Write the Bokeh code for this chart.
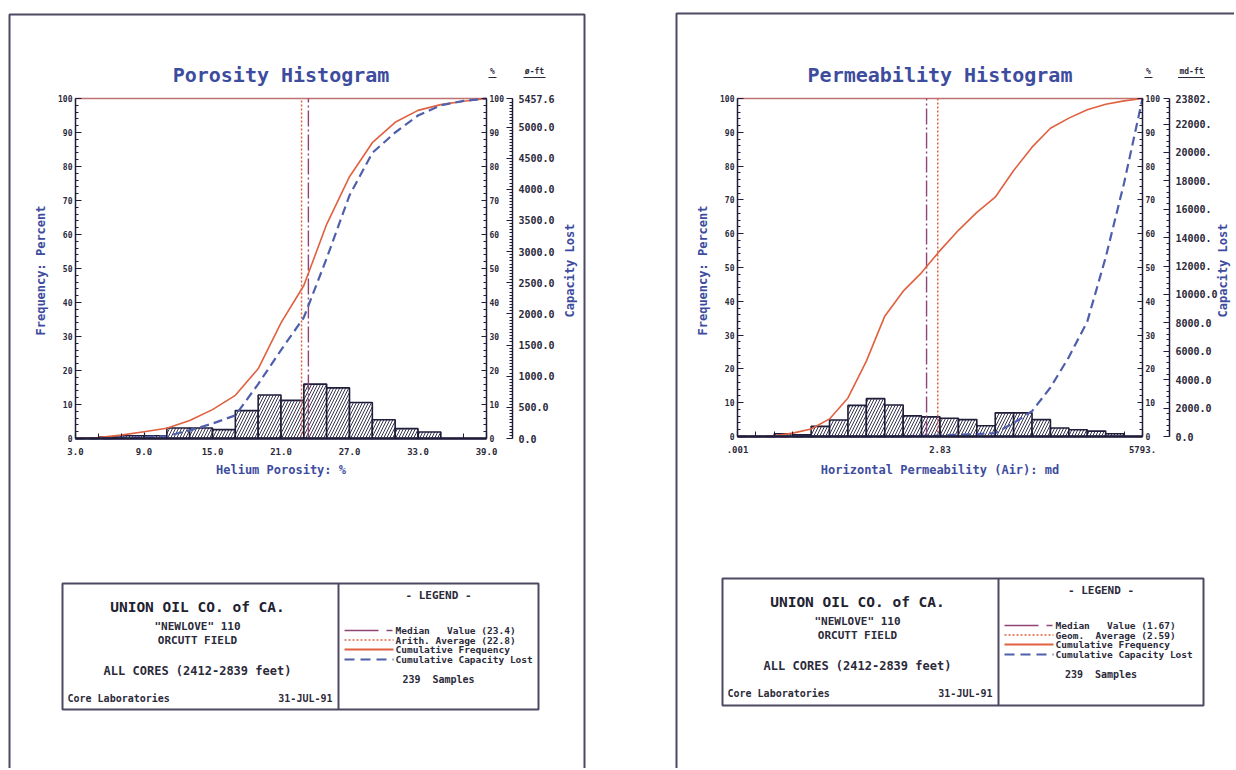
import numpy as np
from bokeh.plotting import figure
from bokeh.models import (Range1d, LinearAxis, LogScale, FixedTicker,
                          SingleIntervalTicker, NumeralTickFormatter)
from bokeh.core.properties import value
from bokeh.embed import file_html
from bokeh.resources import INLINE

# ------------------------------------------------------------------ data
# Porosity histogram: 2 % bins from 3 to 39 % porosity
por_bin_edges = [3, 5, 7, 9, 11, 13, 15, 17, 19, 21, 23, 25, 27, 29, 31, 33, 35, 37, 39]
por_frequency = [0.0, 0.4, 0.8, 0.8, 3.1, 3.1, 2.6, 8.2, 12.8, 11.2, 16.0, 14.9,
                 10.6, 5.5, 2.9, 1.9, 0.0, 0.0]
por_cum_frequency = [0, 0.3, 1.0, 2.0, 3.0, 5.3, 8.5, 12.7, 20.5, 34.0, 45.0, 63.0,
                     77.0, 87.0, 93.0, 96.5, 98.2, 99.2, 100]
por_cum_capacity = [0, 0, 0.2, 0.4, 0.7, 2.4, 4.4, 6.8, 16.0, 26.0, 35.6, 53.0,
                    71.5, 84.0, 90.0, 95.0, 98.0, 99.3, 100]
por_median = 23.4
por_average = 22.8
por_capacity_max = 5457.6
por_capacity_ticks = [0, 500, 1000, 1500, 2000, 2500, 3000, 3500, 4000, 4500, 5000, 5457.6]
por_x_ticks = [3, 9, 15, 21, 27, 33, 39]

# Permeability histogram: 22 log-spaced bins
perm_axis_min = 0.001
perm_axis_max = 8008.9
perm_n_bins = 22
perm_frequency = [0, 0, 0.8, 0.5, 3.0, 4.9, 9.2, 11.2, 9.3, 6.1, 5.8, 5.4, 5.0, 3.2,
                  7.0, 7.0, 5.0, 2.5, 2.0, 1.6, 0.8, 0]
perm_cum_frequency = [0, 0, 0.2, 1.0, 2.2, 5.2, 11.4, 22.3, 35.6, 43.0, 48.5, 55.0,
                      61.0, 66.3, 70.8, 78.7, 85.6, 91.2, 94.2, 96.7, 98.3, 99.3, 100]
perm_cum_capacity = [0, 0, 0, 0, 0, 0, 0, 0, 0, 0.1, 0.2, 0.3, 0.5, 0.7, 1.0, 4.0,
                     7.5, 14.5, 23.5, 34.0, 53.0, 75.0, 100]
perm_median = 1.67
perm_geom_average = 2.59
perm_capacity_max = 23802
perm_capacity_ticks = [0, 2000, 4000, 6000, 8000, 10000, 12000, 14000, 16000, 18000,
                       20000, 22000, 23802]
perm_capacity_labels = ["0.0", "2000.0", "4000.0", "6000.0", "8000.0", "10000.0", "12000.",
                        "14000.", "16000.", "18000.", "20000.", "22000.", "23802."]
perm_x_ticks = [0.001, 2.83, 8008.9]
perm_x_labels = [".001", "2.83", "5793."]
perm_bin_edges = list(np.geomspace(perm_axis_min, perm_axis_max, perm_n_bins + 1))

# ------------------------------------------------------------------ style
FONT = "DejaVu Sans Mono"
INK = "#1f1d3a"
DARK = "#2b2a3a"
BLUE_TXT = "#3d4c9e"
RED = "#e0603f"
BLUE_LINE = "#4f5fab"
MEDIAN = "#8e4474"
FRAME_TOP = "#c07272"
BORDER = "#4f4862"
NB = "\u00a0"

W, H = 1234, 768


def Y(py):
    return H - py


p = figure(width=W, height=H, x_range=Range1d(0, W), y_range=Range1d(0, H),
           x_axis_type=None, y_axis_type=None, output_backend="svg",
           toolbar_location=None, min_border=0, outline_line_color=None,
           background_fill_color="white", border_fill_color="white")


def lin_range(v0, p0, v1, p1, c0, c1):
    k = (v1 - v0) / (p1 - p0)
    return Range1d(start=v0 + (c0 - p0) * k, end=v0 + (c1 - p0) * k)


def log_range(v0, p0, v1, p1, c0, c1):
    a, b = np.log10(v0), np.log10(v1)
    k = (b - a) / (p1 - p0)
    return Range1d(start=10 ** (a + (c0 - p0) * k), end=10 ** (a + (c1 - p0) * k))


CX0, CX1 = 0, W
CY0, CY1 = 0, H

# panel geometry (page pixels)
LG = dict(x0=75, x1=486, y0=438, y100=98, cap_x=512)
RG = dict(x0=737, x1=1142, y0=436, y100=98, cap_x=1169)

p.extra_x_ranges = {
    "lx": lin_range(por_bin_edges[0], LG["x0"], por_bin_edges[-1], LG["x1"], CX0, CX1),
    "rx": log_range(perm_axis_min, RG["x0"], perm_axis_max, RG["x1"], CX0, CX1),
}
p.extra_x_scales = {"rx": LogScale()}
p.extra_y_ranges = {
    "ly": lin_range(0, Y(LG["y0"]), 100, Y(LG["y100"]), CY0, CY1),
    "lc": lin_range(0, Y(LG["y0"]), por_capacity_max, Y(LG["y100"]), CY0, CY1),
    "ry": lin_range(0, Y(RG["y0"]), 100, Y(RG["y100"]), CY0, CY1),
    "rc": lin_range(0, Y(RG["y0"]), perm_capacity_max, Y(RG["y100"]), CY0, CY1),
}


def txt(x, py, s, size, color=DARK, align="center", bold=True, angle=0.0):
    p.text(x=[x], y=[Y(py)], text=[s.replace(" ", NB)], text_font=value(FONT),
           text_font_size=f"{size}px", text_font_style="bold" if bold else "normal",
           text_color=color, text_align=align, text_baseline="middle", angle=angle)


def seg(x0, py0, x1, py1, color, width, dash="solid"):
    p.segment(x0=[x0], y0=[Y(py0)], x1=[x1], y1=[Y(py1)], line_color=color,
              line_width=width, line_dash=dash)


def style_axis(ax, size, tick_in, minor_in, lw=1.5, standoff=3):
    ax.axis_line_color = INK
    ax.axis_line_width = lw
    ax.major_tick_line_color = INK
    ax.major_tick_line_width = 1.2
    ax.minor_tick_line_color = INK
    ax.minor_tick_line_width = 1.0
    ax.major_tick_in = tick_in
    ax.major_tick_out = 0
    ax.minor_tick_in = minor_in
    ax.minor_tick_out = 0
    ax.major_label_text_font = FONT
    ax.major_label_text_font_style = "bold"
    ax.major_label_text_font_size = f"{size}px"
    ax.major_label_text_color = DARK
    ax.major_label_standoff = standoff


def draw_hist(g, xn, yn, edges, freq, cumf, cumc, med, avg, xmin, xmax):
    # bars
    p.quad(left=edges[:-1], right=edges[1:], bottom=0, top=freq,
           x_range_name=xn, y_range_name=yn, fill_color="white", line_color=INK,
           line_width=1.6, hatch_pattern="/", hatch_color=INK, hatch_weight=0.9,
           hatch_scale=6)
    # top frame line
    p.segment(x0=[xmin], y0=[100], x1=[xmax], y1=[100], x_range_name=xn,
              y_range_name=yn, line_color=FRAME_TOP, line_width=1.4)
    # median / average
    p.segment(x0=[med], y0=[0], x1=[med], y1=[100], x_range_name=xn, y_range_name=yn,
              line_color=MEDIAN, line_width=1.4, line_dash="16 3 2 3")
    p.segment(x0=[avg], y0=[0], x1=[avg], y1=[100], x_range_name=xn, y_range_name=yn,
              line_color=RED, line_width=1.5, line_dash="2 2")
    # cumulative curves
    p.line(edges, cumf, x_range_name=xn, y_range_name=yn, line_color=RED, line_width=1.6)
    p.line(edges, cumc, x_range_name=xn, y_range_name=yn, line_color=BLUE_LINE,
           line_width=2.2, line_dash="9 5")

    # left percent axis
    ax = LinearAxis(y_range_name=yn, fixed_location=g["x0"], bounds=(0, 100),
                    ticker=SingleIntervalTicker(interval=10, num_minor_ticks=5))
    style_axis(ax, 8, 6, 3, lw=1.5, standoff=3)
    p.add_layout(ax, "left")
    # right percent axis
    ax = LinearAxis(y_range_name=yn, fixed_location=g["x1"], bounds=(0, 100),
                    ticker=SingleIntervalTicker(interval=10, num_minor_ticks=5))
    style_axis(ax, 8, 5, 3, lw=1.5, standoff=3)
    p.add_layout(ax, "right")


# ------------------------------------------------------------------ porosity panel
draw_hist(LG, "lx", "ly", por_bin_edges, por_frequency, por_cum_frequency,
          por_cum_capacity, por_median, por_average, por_bin_edges[0], por_bin_edges[-1])

ax = LinearAxis(y_range_name="lc", fixed_location=LG["cap_x"], bounds=(0, por_capacity_max),
                ticker=FixedTicker(ticks=por_capacity_ticks,
                                   minor_ticks=list(np.arange(0, por_capacity_max, 50))),
                formatter=NumeralTickFormatter(format="0.0"))
style_axis(ax, 10, 6, 3, lw=1.5, standoff=6)
p.add_layout(ax, "right")

ax = LinearAxis(x_range_name="lx", fixed_location=Y(LG["y0"]),
                bounds=(por_bin_edges[0], por_bin_edges[-1]),
                ticker=FixedTicker(ticks=por_x_ticks, minor_ticks=por_bin_edges),
                formatter=NumeralTickFormatter(format="0.0"))
style_axis(ax, 9, 6, 5, lw=2.6, standoff=9)
p.add_layout(ax, "below")

# ------------------------------------------------------------------ permeability panel
draw_hist(RG, "rx", "ry", perm_bin_edges, perm_frequency, perm_cum_frequency,
          perm_cum_capacity, perm_median, perm_geom_average, perm_axis_min, perm_axis_max)

ax = LinearAxis(y_range_name="rc", fixed_location=RG["cap_x"], bounds=(0, perm_capacity_max),
                ticker=FixedTicker(ticks=perm_capacity_ticks,
                                   minor_ticks=list(np.arange(0, perm_capacity_max, 400))))
ax.major_label_overrides = dict(zip(perm_capacity_ticks, perm_capacity_labels))
style_axis(ax, 10, 6, 3, lw=1.5, standoff=6)
p.add_layout(ax, "right")

ax = LinearAxis(x_range_name="rx", fixed_location=Y(RG["y0"]),
                bounds=(perm_axis_min, perm_axis_max),
                ticker=FixedTicker(ticks=perm_x_ticks, minor_ticks=perm_bin_edges))
ax.major_label_overrides = dict(zip(perm_x_ticks, perm_x_labels))
style_axis(ax, 9, 6, 5, lw=2.6, standoff=9)
p.add_layout(ax, "below")

# ------------------------------------------------------------------ titles and axis titles
for g, title, xlabel, unit, cap_dx in [
        (LG, "Porosity Histogram", "Helium Porosity: %", "ø-ft", 57),
        (RG, "Permeability Histogram", "Horizontal Permeability (Air): md", "md-ft", 53)]:
    cx = (g["x0"] + g["x1"]) / 2
    txt(cx, 74, title, 20, color=BLUE_TXT)
    txt(cx, 469, xlabel, 12, color=BLUE_TXT)
    txt(g["x0"] - 35, 270, "Frequency: Percent", 12, color=BLUE_TXT, angle=np.pi / 2)
    txt(g["cap_x"] + cap_dx, 270, "Capacity Lost", 12, color=BLUE_TXT, angle=np.pi / 2)
    # header units above the right axes
    txt(g["x1"] + 6, 71, "%", 8)
    seg(g["x1"] + 2, 77, g["x1"] + 10, 77, DARK, 1)
    ux = g["cap_x"] + 22
    txt(ux, 71, unit, 8)
    w = 5 * len(unit)
    seg(ux - w / 2 - 1, 77, ux + w / 2 + 1, 77, DARK, 1)

# ------------------------------------------------------------------ page borders
p.line(x=[9, 9, 584, 584], y=[Y(780), Y(14), Y(14), Y(780)], line_color=BORDER, line_width=2)
p.line(x=[676, 676, 1240], y=[Y(780), Y(13), Y(13)], line_color=BORDER, line_width=2)

# ------------------------------------------------------------------ info / legend boxes
boxes = [
    (dict(x0=62, x1=538, xd=338, top=583, bottom=709),
     ["Median   Value (23.4)", "Arith. Average (22.8)"]),
    (dict(x0=722, x1=1203, xd=998, top=578, bottom=705),
     ["Median   Value (1.67)", "Geom.  Average (2.59)"]),
]
for b, stat_labels in boxes:
    p.quad(left=[b["x0"]], right=[b["x1"]], top=[Y(b["top"])], bottom=[Y(b["bottom"])],
           fill_color=None, line_color=BORDER, line_width=2)
    seg(b["xd"], b["top"], b["xd"], b["bottom"], BORDER, 2)
    cx = (b["x0"] + b["xd"]) / 2 - 3
    t = b["top"]
    txt(cx, t + 23, "UNION OIL CO. of CA.", 14.5, color="#222230")
    txt(cx, t + 43, "\"NEWLOVE\" 110", 11)
    txt(cx, t + 57, "ORCUTT FIELD", 11)
    txt(cx, t + 87, "ALL CORES (2412-2839 feet)", 12)
    txt(b["x0"] + 5, t + 115, "Core Laboratories", 10, align="left")
    txt(b["xd"] - 6, t + 115, "31-JUL-91", 10, align="right")

    lc = (b["xd"] + b["x1"]) / 2
    txt(lc, t + 12, "- LEGEND -", 11)
    lx0, lx1, tx = b["xd"] + 6, b["xd"] + 55, b["xd"] + 57
    entries = [
        (stat_labels[0], MEDIAN, 1.4, "34 8 6 30"),
        (stat_labels[1], RED, 1.5, "2 2"),
        ("Cumulative Frequency", RED, 2.0, "solid"),
        ("Cumulative Capacity Lost", BLUE_LINE, 2.0, "10 6"),
    ]
    for (lab, col, lw, dash), dy in zip(entries, [47, 56.5, 66, 76]):
        seg(lx0, t + dy, lx1, t + dy, col, lw, dash)
        txt(tx, t + dy, lab, 9.5, align="left")
    txt(lc, t + 96, "239  Samples", 10)

open("out.html", "w").write(file_html(p, INLINE))
